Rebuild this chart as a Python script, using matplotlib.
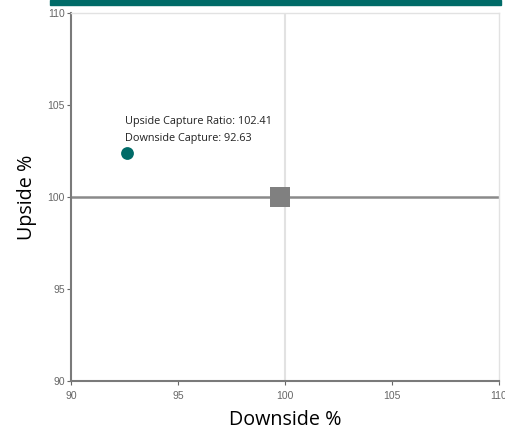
import matplotlib
matplotlib.use("Agg")
import matplotlib.pyplot as plt
from matplotlib.patches import Rectangle

# data
fund_down = [92.63]
fund_up = [102.41]
bench_down = [99.75]
bench_up = [100.0]
x_ticks = [90, 95, 100, 105, 110]
y_ticks = [90, 95, 100, 105, 110]
label_lines = ["Upside Capture Ratio: 102.41", "Downside Capture: 92.63"]

TEAL = "#006b68"
W, H = 506, 430

fig = plt.figure(figsize=(W / 100, H / 100), dpi=100)
fig.patches.append(Rectangle((50 / W, 1 - 5 / H), 451 / W, 5 / H,
                             transform=fig.transFigure, color=TEAL, zorder=0))

# plot area: x 71..499 px, y 13..381 px
ax = fig.add_axes([71 / W, 1 - 381 / H, 428 / W, 368 / H])
ax.set_xlim(90, 110)
ax.set_ylim(90, 110)
ax.set_xticks(x_ticks)
ax.set_yticks(y_ticks)
ax.tick_params(labelsize=7.5, colors="#666666", length=3, width=0.8)
ax.tick_params(axis="x", pad=4.5)
ax.tick_params(axis="y", pad=1.5)
for lab in ax.get_xticklabels() + ax.get_yticklabels():
    lab.set_family("Liberation Sans")

for s in ["top", "right"]:
    ax.spines[s].set_color("#e2e2e2")
    ax.spines[s].set_linewidth(1.0)
for s in ["left", "bottom"]:
    ax.spines[s].set_color("#7a7a7a")
    ax.spines[s].set_linewidth(1.5)

ax.axvline(100, color="#e2e2e2", linewidth=1.5, zorder=1)
ax.axhline(100, color="#8a8a8a", linewidth=1.8, zorder=1)

ax.scatter(bench_down, bench_up, marker="s", s=210, color="#808080",
           linewidths=0, zorder=3)
ax.scatter(fund_down, fund_up, marker="o", s=85, color=TEAL,
           linewidths=0, zorder=4)

# tooltip-style label, one line at a time (17 px apart)
line_step = 17 / 18.4
for i, line in enumerate(label_lines):
    ax.text(fund_down[0] - 0.1, fund_up[0] + 1.56 - i * line_step, line,
            fontsize=7.8, color="#222222", family="Open Sans",
            va="baseline", ha="left")

ax.set_xlabel("Downside %", fontsize=14.2, family="Open Sans", va="baseline")
ax.xaxis.set_label_coords(0.5, -0.119)
ax.set_ylabel("Upside %", fontsize=14.2, family="Open Sans", va="center")
ax.yaxis.set_label_coords(-0.103, 0.5)

fig.savefig("out.png", dpi=100)
